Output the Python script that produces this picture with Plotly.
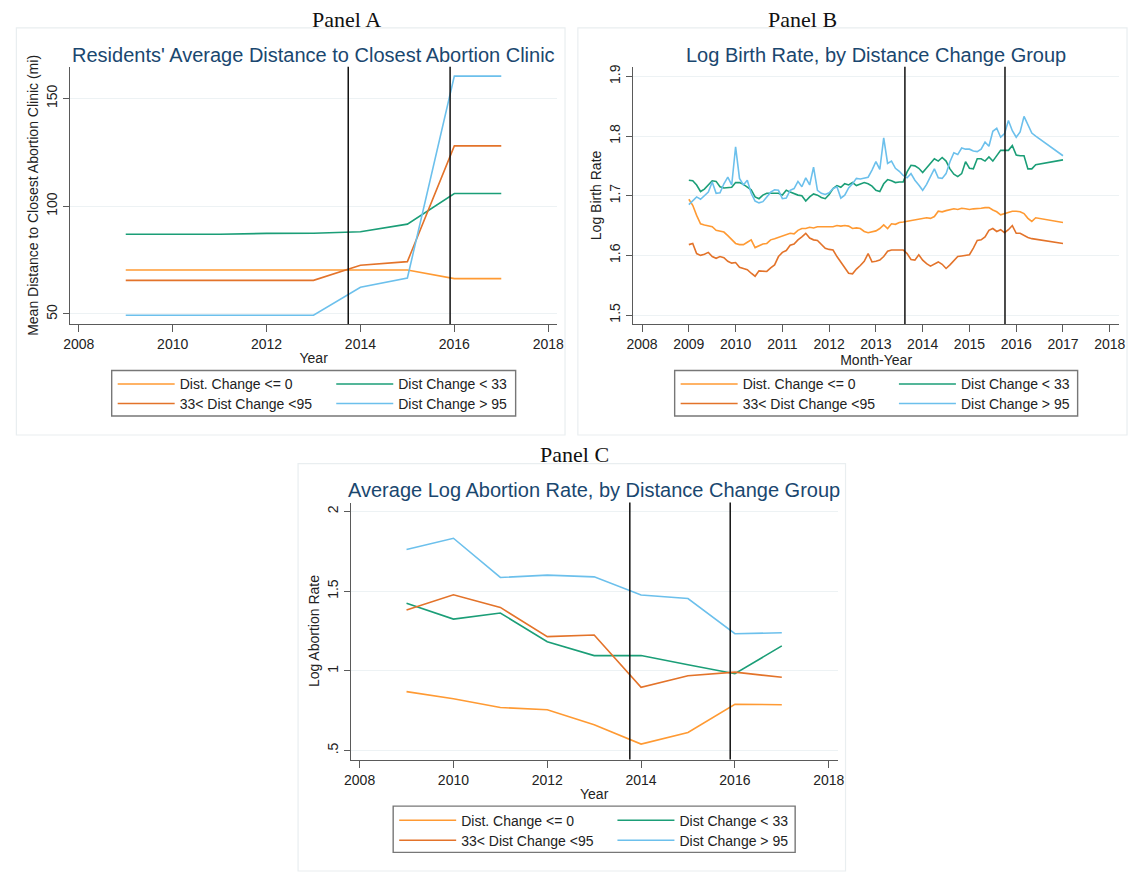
import plotly.graph_objects as go

W, H = 1135, 873

# ---------------- data ----------------
group_names = ["Dist. Change <= 0", "Dist Change < 33", "33< Dist Change <95", "Dist Change > 95"]
group_colors = ["#FF9A33", "#1B9E77", "#E3732A", "#6CC0EC"]

# Panel A: mean distance to closest clinic (mi), by year
years_A = [2009, 2010, 2011, 2012, 2013, 2014, 2015, 2016, 2017]
distA_le0 = [70.4, 70.4, 70.4, 70.4, 70.4, 70.4, 70.4, 66.4, 66.4]
distA_lt33 = [87.0, 87.0, 87.0, 87.4, 87.5, 88.2, 91.7, 105.9, 105.9]
distA_33_95 = [65.6, 65.6, 65.6, 65.6, 65.6, 72.6, 74.3, 128.0, 128.0]
distA_gt95 = [49.4, 49.4, 49.4, 49.4, 49.4, 62.4, 66.7, 160.4, 160.4]

# Panel B: monthly log birth rate (Jan 2009 .. Jun 2016, then 2017)
months_B = [2009 + i / 12 for i in range(90)] + [2017.0]
birthB_le0 = [
    1.694, 1.684, 1.667, 1.653, 1.651, 1.650, 1.648, 1.642, 1.641, 1.639, 1.633, 1.627,
    1.620, 1.618, 1.618, 1.622, 1.626, 1.613, 1.616, 1.619, 1.620, 1.626, 1.628, 1.630,
    1.632, 1.634, 1.637, 1.636, 1.642, 1.645, 1.645, 1.647, 1.646, 1.648, 1.648, 1.648,
    1.649, 1.648, 1.650, 1.649, 1.650, 1.649, 1.645, 1.646, 1.645, 1.640, 1.638, 1.639,
    1.641, 1.645, 1.651, 1.645, 1.653, 1.652, 1.655, 1.656, 1.657, 1.658, 1.659, 1.660,
    1.661, 1.663, 1.662, 1.665, 1.674, 1.673, 1.675, 1.676, 1.678, 1.677, 1.679, 1.678,
    1.677, 1.678, 1.678, 1.679, 1.680, 1.680, 1.676, 1.673, 1.668, 1.670, 1.673, 1.674,
    1.674, 1.673, 1.670, 1.662, 1.657, 1.663, 1.655]
birthB_lt33 = [
    1.726, 1.725, 1.718, 1.707, 1.711, 1.718, 1.725, 1.724, 1.715, 1.713, 1.713, 1.714,
    1.722, 1.722, 1.719, 1.714, 1.710, 1.698, 1.695, 1.701, 1.704, 1.704, 1.704, 1.704,
    1.701, 1.709, 1.706, 1.703, 1.701, 1.700, 1.691, 1.698, 1.703, 1.701, 1.697, 1.695,
    1.702, 1.712, 1.717, 1.714, 1.720, 1.718, 1.722, 1.717, 1.720, 1.722, 1.720, 1.716,
    1.709, 1.707, 1.720, 1.727, 1.725, 1.722, 1.723, 1.723, 1.740, 1.751, 1.750, 1.746,
    1.739, 1.747, 1.754, 1.762, 1.758, 1.764, 1.758, 1.745, 1.736, 1.732, 1.737, 1.757,
    1.746, 1.745, 1.762, 1.762, 1.758, 1.765, 1.758, 1.767, 1.776, 1.776, 1.776, 1.784,
    1.768, 1.767, 1.767, 1.745, 1.745, 1.752, 1.760]
birthB_33_95 = [
    1.618, 1.620, 1.603, 1.600, 1.602, 1.605, 1.598, 1.595, 1.598, 1.596, 1.590, 1.587,
    1.588, 1.580, 1.578, 1.576, 1.570, 1.565, 1.574, 1.573, 1.573, 1.579, 1.584, 1.598,
    1.605, 1.608, 1.617, 1.619, 1.626, 1.631, 1.637, 1.629, 1.626, 1.625, 1.618, 1.612,
    1.610, 1.609, 1.598, 1.588, 1.578, 1.570, 1.569, 1.577, 1.583, 1.590, 1.603, 1.589,
    1.590, 1.592, 1.598, 1.607, 1.609, 1.609, 1.610, 1.609, 1.603, 1.593, 1.592, 1.601,
    1.592, 1.586, 1.582, 1.585, 1.589, 1.585, 1.578, 1.584, 1.591, 1.598, 1.599, 1.600,
    1.601, 1.612, 1.625, 1.626, 1.631, 1.642, 1.645, 1.640, 1.643, 1.638, 1.643, 1.650,
    1.637, 1.637, 1.633, 1.630, 1.628, 1.627, 1.620]
birthB_gt95 = [
    1.685, 1.692, 1.698, 1.694, 1.700, 1.706, 1.723, 1.704, 1.705, 1.720, 1.731, 1.718,
    1.782, 1.729, 1.718, 1.726, 1.704, 1.691, 1.688, 1.690, 1.698, 1.706, 1.710, 1.709,
    1.695, 1.696, 1.709, 1.712, 1.724, 1.715, 1.730, 1.718, 1.748, 1.709, 1.704, 1.702,
    1.705, 1.712, 1.715, 1.696, 1.701, 1.713, 1.720, 1.729, 1.728, 1.729, 1.731, 1.743,
    1.757, 1.744, 1.797, 1.754, 1.758, 1.746, 1.741, 1.734, 1.730, 1.737, 1.726, 1.718,
    1.709, 1.719, 1.731, 1.745, 1.730, 1.729, 1.737, 1.757, 1.772, 1.769, 1.780, 1.778,
    1.778, 1.775, 1.774, 1.778, 1.790, 1.783, 1.808, 1.813, 1.798, 1.804, 1.826, 1.809,
    1.798, 1.807, 1.833, 1.820, 1.805, 1.800, 1.767]

# Panel C: average log abortion rate, by year
years_C = [2009, 2010, 2011, 2012, 2013, 2014, 2015, 2016, 2017]
abortC_le0 = [0.870, 0.825, 0.770, 0.756, 0.662, 0.541, 0.614, 0.790, 0.788]
abortC_lt33 = [1.425, 1.325, 1.363, 1.183, 1.096, 1.096, 1.039, 0.982, 1.157]
abortC_33_95 = [1.382, 1.477, 1.398, 1.215, 1.225, 0.897, 0.969, 0.992, 0.960]
abortC_gt95 = [1.761, 1.832, 1.586, 1.601, 1.590, 1.476, 1.454, 1.233, 1.239]

# reference (law change) dates
vlines_A = [2013.74, 2015.91]
vlines_B = [2013.62, 2015.76]
vlines_C = [2013.76, 2015.90]

ticks_A = [2008, 2010, 2012, 2014, 2016, 2018]
ticks_B = [2008, 2009, 2010, 2011, 2012, 2013, 2014, 2015, 2016, 2017, 2018]
ticks_C = [2008, 2010, 2012, 2014, 2016, 2018]
yticks_A = [50, 100, 150]
yticks_B = [1.5, 1.6, 1.7, 1.8, 1.9]
yticks_C = [0.5, 1, 1.5, 2]
yticktext_C = [".5", "1", "1.5", "2"]

# ---------------- layout helpers ----------------
def px(x):
    return x / W

def py(y):
    return 1 - y / H

FONT = "Liberation Sans, Arial, sans-serif"
TITLE_COLOR = "#1A476F"
GRID = "#EDF2F4"
AXCOL = "#5A5A5A"

panels = [
    dict(ax="", x=(64, 557), y=(65, 322.7), xr=(2007.817, 2018.19), yr=(45.37, 164.7),
         frame=(9.5, 26, 565, 434), title="Residents' Average Distance to Closest Abortion Clinic",
         tpos=(310, 53), label="Panel A", lpos=(344, 18), xtitle="Year",
         ytitle="Mean Distance to Closest Abortion Clinic (mi)",
         xt=ticks_A, yt=yticks_A, ytt=[str(v) for v in yticks_A], vl=vlines_A,
         xs=years_A, series=[distA_le0, distA_lt33, distA_33_95, distA_gt95],
         leg_x=(112, 333.3), leg_y=(382.7, 402.3), box=(106, 369.3, 515, 415)),
    dict(ax="2", x=(634, 1126), y=(65, 322.7), xr=(2007.81, 2018.2), yr=(1.485, 1.916),
         frame=(578, 26, 1134, 434), title="Log Birth Rate, by Distance Change Group",
         tpos=(879.5, 53), label="Panel B", lpos=(805.5, 18), xtitle="Month-Year",
         ytitle="Log Birth Rate",
         xt=ticks_B, yt=yticks_B, ytt=[str(v) for v in yticks_B], vl=vlines_B,
         xs=months_B, series=[birthB_le0, birthB_lt33, birthB_33_95, birthB_gt95],
         leg_x=(682, 903), leg_y=(382.7, 402.3), box=(676, 369.3, 1084, 415)),
    dict(ax="3", x=(348, 841), y=(501.7, 759.3), xr=(2007.81, 2018.19), yr=(0.4437, 2.056),
         frame=(294.7, 462.7, 849, 871), title="Average Log Abortion Rate, by Distance Change Group",
         tpos=(594, 489), label="Panel C", lpos=(575, 453.5), xtitle="Year",
         ytitle="Log Abortion Rate",
         xt=ticks_C, yt=yticks_C, ytt=yticktext_C, vl=vlines_C,
         xs=years_C, series=[abortC_le0, abortC_lt33, abortC_33_95, abortC_gt95],
         leg_x=(397, 618), leg_y=(820, 840), box=(391, 806, 798, 852.3)),
]

fig = go.Figure()
layout = dict(width=W, height=H, margin=dict(l=0, r=0, t=0, b=0, pad=0),
              paper_bgcolor="white", plot_bgcolor="white",
              font=dict(family=FONT, size=14, color="#222222"), showlegend=True)
shapes = []
annotations = []

slots = [(0, 0), (1, 0), (0, 1), (1, 1)]
ITEMW = 57
legend_count = 0

for p in panels:
    a = p["ax"]
    xname = "xaxis" + a
    yname = "yaxis" + a
    layout[xname] = dict(
        domain=[px(p["x"][0]), px(p["x"][1])], range=list(p["xr"]), anchor="y" + a,
        showline=True, linecolor=AXCOL, linewidth=1.3, showgrid=False, zeroline=False,
        ticks="outside", ticklen=7, tickwidth=1.2, tickcolor=AXCOL,
        tickvals=p["xt"], ticktext=[str(v) for v in p["xt"]],
        tickfont=dict(size=14, color="#222222"),
        title=dict(text=p["xtitle"], font=dict(size=14, color="#222222"), standoff=2),
        fixedrange=True)
    layout[yname] = dict(
        domain=[py(p["y"][1]), py(p["y"][0])], range=list(p["yr"]), anchor="x" + a,
        showline=True, linecolor=AXCOL, linewidth=1.3, showgrid=True, gridcolor=GRID,
        gridwidth=1.2, zeroline=False,
        ticks="outside", ticklen=6, tickwidth=1.2, tickcolor=AXCOL,
        tickvals=p["yt"], ticktext=p["ytt"], tickangle=-90,
        tickfont=dict(size=14, color="#222222"),
        title=dict(text=p["ytitle"], font=dict(size=14, color="#222222"), standoff=2),
        fixedrange=True)

    for gi, (name, col, vals) in enumerate(zip(group_names, group_colors, p["series"])):
        legend_count += 1
        lname = "legend" if legend_count == 1 else "legend%d" % legend_count
        c, r = slots[gi]
        lx = p["leg_x"][c] - 5
        ly = p["leg_y"][r] - 15.5
        layout[lname] = dict(x=px(lx), y=py(ly), xanchor="left", yanchor="top",
                             bgcolor="rgba(0,0,0,0)", borderwidth=0, itemwidth=ITEMW,
                             font=dict(size=14, color="#222222", family=FONT),
                             tracegroupgap=0)
        fig.add_trace(go.Scatter(
            x=p["xs"], y=vals, mode="lines", name=name,
            line=dict(color=col, width=1.6),
            xaxis="x" + a, yaxis="y" + a, legend=lname, hoverinfo="skip"))

    for v in p["vl"]:
        shapes.append(dict(type="line", xref="x" + a, yref="y%s domain" % a,
                           x0=v, x1=v, y0=0, y1=1,
                           line=dict(color="#111111", width=1.5), layer="above"))

    fx0, fy0, fx1, fy1 = p["frame"]
    shapes.append(dict(type="rect", xref="paper", yref="paper",
                       x0=px(fx0), x1=px(fx1), y0=py(fy1), y1=py(fy0),
                       line=dict(color="#E9EEF0", width=1.2), layer="below"))
    bx0, by0, bx1, by1 = p["box"]
    shapes.append(dict(type="rect", xref="paper", yref="paper",
                       x0=px(bx0), x1=px(bx1), y0=py(by1), y1=py(by0),
                       line=dict(color="#777777", width=1.4), layer="above"))

    annotations.append(dict(text=p["title"], xref="paper", yref="paper",
                            x=px(p["tpos"][0]), y=py(p["tpos"][1]),
                            xanchor="center", yanchor="middle", showarrow=False,
                            font=dict(size=20, color=TITLE_COLOR, family=FONT)))
    annotations.append(dict(text=p["label"], xref="paper", yref="paper",
                            x=px(p["lpos"][0]), y=py(p["lpos"][1]),
                            xanchor="center", yanchor="middle", showarrow=False,
                            font=dict(size=22, color="#111111",
                                      family="Liberation Serif, Times New Roman, serif")))

layout["shapes"] = shapes
layout["annotations"] = annotations
fig.update_layout(**layout)
fig.write_html("out.html", config={"displayModeBar": False},
               post_script="document.body.style.margin='0px';document.body.style.overflow='hidden';")
